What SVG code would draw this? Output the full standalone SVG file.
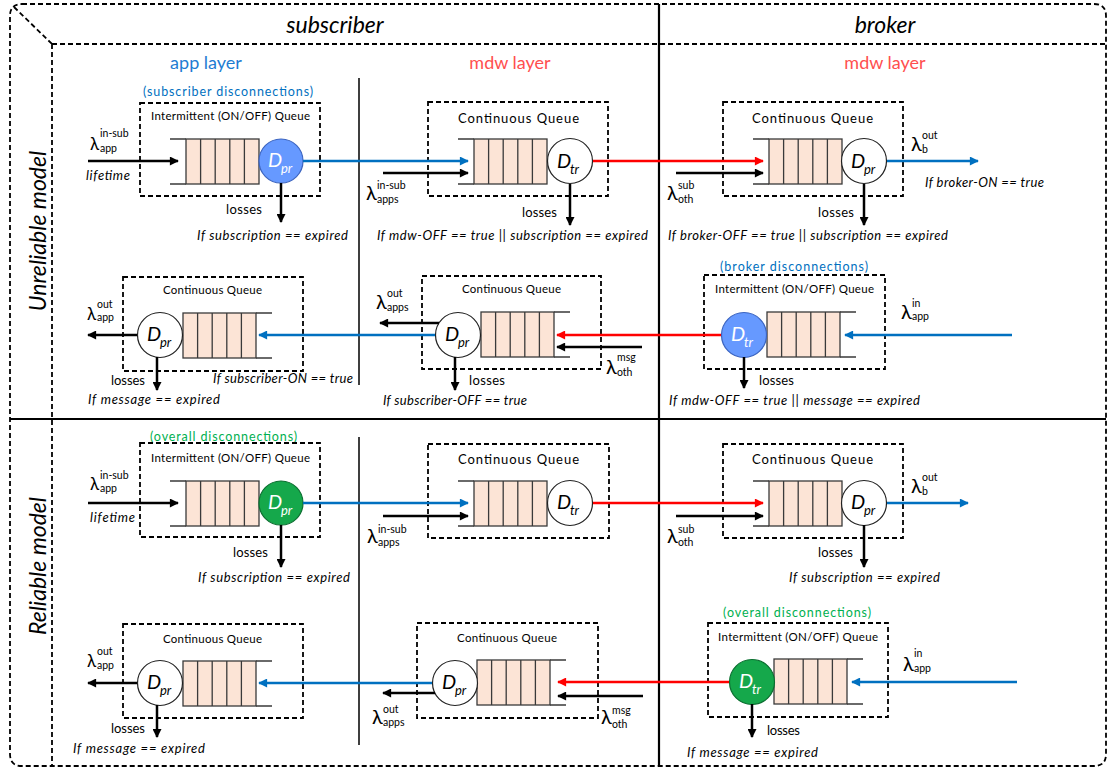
<svg xmlns="http://www.w3.org/2000/svg" width="1108" height="769" viewBox="0 0 1108 769">
<defs>
<style>
text{font-family:Lato,"Liberation Sans","DejaVu Sans",sans-serif;fill:#000}
.hdr{font-size:23px;font-style:italic;text-anchor:middle}
.lay{font-size:18px;text-anchor:middle}
.blue{fill:#1E7CD2}
.red{fill:#FF4F4F}
.cb{fill:#0070C0}
.cg{fill:#00B050}
.disc{font-size:12.5px;text-anchor:middle}
.qt{font-size:11.5px;text-anchor:middle}
.qt2{font-size:13px;text-anchor:middle}
.dash{fill:none;stroke:#000;stroke-width:1.8;stroke-dasharray:5 3}
.frame{fill:none;stroke:#000;stroke-width:1.8;stroke-dasharray:5 3}
.solid{stroke:#000;stroke-width:2.2;fill:none}
.thin{stroke:#000;stroke-width:1.5;fill:none}
.cell{fill:#FCE4D6;stroke:#3a3a3a;stroke-width:1.3}
.ql{stroke:#3a3a3a;stroke-width:1.3;fill:none}
.srv{fill:#fff;stroke:#222;stroke-width:1.2}
.srvb{fill:#6699FF;stroke:#3b64c0;stroke-width:1.2}
.srvg{fill:#15A84B;stroke:#0b6f30;stroke-width:1.2}
.D{font-size:20px;font-style:italic}
.Ds{font-size:13px;font-style:italic}
.wt{fill:#fff}
.lam{font-size:17px}
.lam2{font-size:20px}
.sc{font-size:10.5px}
.it{font-size:13px;font-style:italic}
.ls{font-size:13px}
.ak{stroke:#000;stroke-width:2.5;fill:none}
.ab{stroke:#0070C0;stroke-width:2.5;fill:none}
.ar{stroke:#FF0000;stroke-width:2.5;fill:none}
</style>
<marker id="mk" viewBox="0 0 10 10" refX="9" refY="5" markerWidth="10" markerHeight="9" markerUnits="userSpaceOnUse" orient="auto"><path d="M0,0L10,5L0,10z" fill="#000"/></marker>
<marker id="mb" viewBox="0 0 10 10" refX="9" refY="5" markerWidth="10" markerHeight="9" markerUnits="userSpaceOnUse" orient="auto"><path d="M0,0L10,5L0,10z" fill="#0070C0"/></marker>
<marker id="mr" viewBox="0 0 10 10" refX="9" refY="5" markerWidth="10" markerHeight="9" markerUnits="userSpaceOnUse" orient="auto"><path d="M0,0L10,5L0,10z" fill="#FF0000"/></marker>
<g id="cells"><rect class="cell" x="0" y="0" width="73" height="45"/><path class="ql" d="M14.6,0V45M29.2,0V45M43.8,0V45M58.4,0V45"/></g>
<g id="qR"><path class="ql" d="M-16,0H0M-16,45H0"/><use href="#cells"/></g>
<g id="qL"><path class="ql" d="M73,0H89M73,45H89"/><use href="#cells"/></g>
</defs>
<rect width="1108" height="769" fill="#fff"/>

<g id="frame">
<path class="frame" d="M22,4H1094Q1106,4 1106,16V754Q1106,766 1094,766H22Q10,766 10,754V16Q10,4 22,4Z"/>
<path class="frame" d="M14,7L52,44M52,44H1106M52,44V766"/>
<path class="solid" d="M659,4V766M10,419H1106"/>
<path class="thin" d="M359,78V385M359,437V745"/>
<text class="hdr" x="335" y="33">subscriber</text>
<text class="hdr" x="885" y="33">broker</text>
<text class="hdr" transform="translate(46,231) rotate(-90)">Unreliable model</text>
<text class="hdr" transform="translate(46,566) rotate(-90)">Reliable model</text>
<text class="lay blue" x="206" y="69">app layer</text>
<text class="lay red" x="510" y="69">mdw layer</text>
<text class="lay red" x="885" y="69">mdw layer</text>
</g>

<g id="A1">
<text class="disc cb" x="228" y="96" textLength="170">(subscriber disconnections)</text>
<rect class="dash" x="140" y="103" width="180" height="93"/>
<text class="qt" x="230.5" y="120" textLength="159">Intermittent (ON/OFF) Queue</text>
<use href="#qR" x="186" y="139"/>
<circle class="srvb" cx="281" cy="161" r="22"/>
<text class="D wt" x="268" y="167">D</text><text class="Ds wt" x="281" y="173">pr</text>
</g>

<g id="B1">
<rect class="dash" x="428" y="102" width="180" height="94"/>
<text class="qt2" x="518.5" y="123" textLength="121">Continuous Queue</text>
<use href="#qR" x="474" y="139"/>
<circle class="srv" cx="570" cy="161" r="22.5"/>
<text class="D" x="557" y="168">D</text><text class="Ds" x="570" y="174">tr</text>
</g>

<g id="C1">
<rect class="dash" x="723" y="102" width="180" height="94"/>
<text class="qt2" x="812.5" y="123" textLength="121">Continuous Queue</text>
<use href="#qR" x="769" y="139"/>
<circle class="srv" cx="864" cy="161" r="22.5"/>
<text class="D" x="851" y="168">D</text><text class="Ds" x="864" y="174">pr</text>
</g>

<g id="A2">
<rect class="dash" x="123" y="277" width="180" height="94"/>
<text class="qt" x="212.5" y="294" textLength="99">Continuous Queue</text>
<use href="#qL" x="183" y="313"/>
<circle class="srv" cx="160" cy="335" r="22.5"/>
<text class="D" x="147" y="341">D</text><text class="Ds" x="160" y="347">pr</text>
</g>

<g id="B2">
<rect class="dash" x="422" y="276" width="179" height="93"/>
<text class="qt" x="511.5" y="293" textLength="99">Continuous Queue</text>
<use href="#qL" x="481" y="312"/>
<circle class="srv" cx="458" cy="335" r="22.5"/>
<text class="D" x="445" y="341">D</text><text class="Ds" x="458" y="347">pr</text>
</g>

<g id="C2">
<text class="disc cb" x="794" y="271" textLength="148">(broker disconnections)</text>
<rect class="dash" x="704" y="275" width="181" height="94"/>
<text class="qt" x="794.5" y="293" textLength="159">Intermittent (ON/OFF) Queue</text>
<use href="#qL" x="767" y="312"/>
<circle class="srvb" cx="744" cy="335" r="22.5"/>
<text class="D wt" x="731" y="341">D</text><text class="Ds wt" x="744" y="347">tr</text>
</g>

<g id="A3">
<text class="disc cg" x="223.5" y="441" textLength="147">(overall disconnections)</text>
<rect class="dash" x="140" y="443" width="180" height="94"/>
<text class="qt" x="230.5" y="462" textLength="159">Intermittent (ON/OFF) Queue</text>
<use href="#qR" x="186" y="481"/>
<circle class="srvg" cx="281" cy="503" r="22"/>
<text class="D wt" x="268" y="509">D</text><text class="Ds wt" x="281" y="515">pr</text>
</g>

<g id="B3">
<rect class="dash" x="428" y="444" width="181" height="94"/>
<text class="qt2" x="518.5" y="464" textLength="121">Continuous Queue</text>
<use href="#qR" x="474" y="481"/>
<circle class="srv" cx="570" cy="503" r="22.5"/>
<text class="D" x="557" y="509">D</text><text class="Ds" x="570" y="515">tr</text>
</g>

<g id="C3">
<rect class="dash" x="723" y="444" width="180" height="94"/>
<text class="qt2" x="812.5" y="464" textLength="121">Continuous Queue</text>
<use href="#qR" x="769" y="481"/>
<circle class="srv" cx="864" cy="503" r="22.5"/>
<text class="D" x="851" y="509">D</text><text class="Ds" x="864" y="515">pr</text>
</g>

<g id="A4">
<rect class="dash" x="123" y="624" width="180" height="94"/>
<text class="qt" x="212.5" y="643" textLength="99">Continuous Queue</text>
<use href="#qL" x="183" y="661"/>
<circle class="srv" cx="160" cy="683" r="22.5"/>
<text class="D" x="147" y="689">D</text><text class="Ds" x="160" y="695">pr</text>
</g>

<g id="B4">
<rect class="dash" x="417" y="623" width="181" height="95"/>
<text class="qt" x="507" y="642" textLength="100">Continuous Queue</text>
<use href="#qL" x="477" y="660"/>
<circle class="srv" cx="455" cy="683" r="22.5"/>
<text class="D" x="442" y="689">D</text><text class="Ds" x="455" y="695">pr</text>
</g>

<g id="C4">
<text class="disc cg" x="797" y="617" textLength="148">(overall disconnections)</text>
<rect class="dash" x="708" y="623" width="180" height="94"/>
<text class="qt" x="798" y="641" textLength="160">Intermittent (ON/OFF) Queue</text>
<use href="#qL" x="774" y="659"/>
<circle class="srvg" cx="752" cy="682" r="22.5"/>
<text class="D wt" x="739" y="688">D</text><text class="Ds wt" x="752" y="694">tr</text>
</g>

<g id="connectors">
<line class="ak" x1="88" y1="161" x2="178" y2="161" marker-end="url(#mk)"/>
<line class="ab" x1="303" y1="161" x2="468" y2="161" marker-end="url(#mb)"/>
<line class="ak" x1="383" y1="173" x2="468" y2="173" marker-end="url(#mk)"/>
<line class="ar" x1="593" y1="161" x2="763" y2="161" marker-end="url(#mr)"/>
<line class="ak" x1="676" y1="173" x2="763" y2="173" marker-end="url(#mk)"/>
<line class="ab" x1="887" y1="161" x2="978" y2="161" marker-end="url(#mb)"/>
<line class="ak" x1="281" y1="183" x2="281" y2="222" marker-end="url(#mk)"/>
<line class="ak" x1="570" y1="184" x2="570" y2="225" marker-end="url(#mk)"/>
<line class="ak" x1="864" y1="184" x2="864" y2="225" marker-end="url(#mk)"/>

<line class="ab" x1="1012" y1="335" x2="845" y2="335" marker-end="url(#mb)"/>
<line class="ar" x1="721" y1="335" x2="557" y2="335" marker-end="url(#mr)"/>
<line class="ak" x1="642" y1="347" x2="557" y2="347" marker-end="url(#mk)"/>
<line class="ab" x1="435" y1="335" x2="259" y2="335" marker-end="url(#mb)"/>
<line class="ak" x1="439" y1="323" x2="380" y2="323" marker-end="url(#mk)"/>
<line class="ak" x1="137" y1="335" x2="88" y2="335" marker-end="url(#mk)"/>
<line class="ak" x1="157" y1="357" x2="157" y2="390" marker-end="url(#mk)"/>
<line class="ak" x1="455" y1="357" x2="455" y2="390" marker-end="url(#mk)"/>
<line class="ak" x1="744" y1="357" x2="744" y2="388" marker-end="url(#mk)"/>

<line class="ak" x1="88" y1="503" x2="178" y2="503" marker-end="url(#mk)"/>
<line class="ab" x1="303" y1="503" x2="468" y2="503" marker-end="url(#mb)"/>
<line class="ak" x1="383" y1="516" x2="468" y2="516" marker-end="url(#mk)"/>
<line class="ar" x1="593" y1="503" x2="763" y2="503" marker-end="url(#mr)"/>
<line class="ak" x1="676" y1="516" x2="763" y2="516" marker-end="url(#mk)"/>
<line class="ab" x1="887" y1="503" x2="968" y2="503" marker-end="url(#mb)"/>
<line class="ak" x1="281" y1="525" x2="281" y2="567" marker-end="url(#mk)"/>
<line class="ak" x1="864" y1="525" x2="864" y2="567" marker-end="url(#mk)"/>

<line class="ab" x1="1017" y1="682" x2="852" y2="682" marker-end="url(#mb)"/>
<line class="ar" x1="729" y1="682" x2="558" y2="682" marker-end="url(#mr)"/>
<line class="ak" x1="643" y1="696" x2="558" y2="696" marker-end="url(#mk)"/>
<line class="ab" x1="432" y1="683" x2="259" y2="683" marker-end="url(#mb)"/>
<line class="ak" x1="435" y1="693" x2="383" y2="693" marker-end="url(#mk)"/>
<line class="ak" x1="137" y1="683" x2="88" y2="683" marker-end="url(#mk)"/>
<line class="ak" x1="157" y1="705" x2="157" y2="737" marker-end="url(#mk)"/>
<line class="ak" x1="752" y1="704" x2="752" y2="737" marker-end="url(#mk)"/>
</g>

<g id="labels">
<text class="lam" x="90" y="150">λ</text><text class="sc" x="100" y="137">in-sub</text><text class="sc" x="100" y="152">app</text>
<text class="it" x="86" y="180" textLength="44">lifetime</text>
<text class="ls" x="226" y="214" textLength="36">losses</text>
<text class="it" x="197" y="240" textLength="151">If subscription == expired</text>
<text class="lam2" x="366" y="200">λ</text><text class="sc" x="377" y="189">in-sub</text><text class="sc" x="377" y="203">apps</text>
<text class="ls" x="522" y="217" textLength="35">losses</text>
<text class="it" x="377" y="240" textLength="271">If mdw-OFF == true || subscription == expired</text>
<text class="lam2" x="667" y="200">λ</text><text class="sc" x="678" y="189">sub</text><text class="sc" x="678" y="203">oth</text>
<text class="lam2" x="911" y="151">λ</text><text class="sc" x="922" y="139">out</text><text class="sc" x="922" y="153">b</text>
<text class="it" x="925" y="187" textLength="119">If broker-ON == true</text>
<text class="ls" x="818" y="217" textLength="36">losses</text>
<text class="it" x="668" y="240" textLength="280">If broker-OFF == true || subscription == expired</text>

<text class="lam" x="87" y="320">λ</text><text class="sc" x="97" y="308">out</text><text class="sc" x="97" y="321">app</text>
<text class="ls" x="111" y="385" textLength="34">losses</text>
<text class="it" x="88" y="404" textLength="132">If message == expired</text>
<text class="it" x="213" y="383" textLength="140">If subscriber-ON == true</text>
<text class="lam2" x="376" y="309">λ</text><text class="sc" x="387" y="297">out</text><text class="sc" x="387" y="311">apps</text>
<text class="ls" x="469" y="385" textLength="36">losses</text>
<text class="it" x="383" y="405" textLength="144">If subscriber-OFF == true</text>
<text class="lam2" x="606" y="374">λ</text><text class="sc" x="617" y="361">msg</text><text class="sc" x="617" y="376">oth</text>
<text class="lam2" x="901" y="319">λ</text><text class="sc" x="912" y="307">in</text><text class="sc" x="912" y="320">app</text>
<text class="ls" x="759" y="385" textLength="35">losses</text>
<text class="it" x="669" y="405" textLength="251">If mdw-OFF == true || message == expired</text>

<text class="lam" x="90" y="490">λ</text><text class="sc" x="100" y="479">in-sub</text><text class="sc" x="100" y="492">app</text>
<text class="it" x="90" y="522" textLength="45">lifetime</text>
<text class="ls" x="233" y="557" textLength="35">losses</text>
<text class="it" x="198" y="582" textLength="152">If subscription == expired</text>
<text class="lam2" x="367" y="543">λ</text><text class="sc" x="378" y="533">in-sub</text><text class="sc" x="378" y="546">apps</text>
<text class="lam2" x="667" y="543">λ</text><text class="sc" x="678" y="533">sub</text><text class="sc" x="678" y="546">oth</text>
<text class="lam2" x="911" y="493">λ</text><text class="sc" x="922" y="481">out</text><text class="sc" x="922" y="495">b</text>
<text class="ls" x="818" y="557" textLength="35">losses</text>
<text class="it" x="789" y="582" textLength="151">If subscription == expired</text>

<text class="lam" x="87" y="667">λ</text><text class="sc" x="97" y="655">out</text><text class="sc" x="97" y="669">app</text>
<text class="ls" x="111" y="733" textLength="34">losses</text>
<text class="it" x="73" y="753" textLength="132">If message == expired</text>
<text class="lam2" x="372" y="724">λ</text><text class="sc" x="383" y="713">out</text><text class="sc" x="383" y="726">apps</text>
<text class="lam2" x="601" y="724">λ</text><text class="sc" x="612" y="714">msg</text><text class="sc" x="612" y="728">oth</text>
<text class="lam2" x="903" y="671">λ</text><text class="sc" x="914" y="657">in</text><text class="sc" x="914" y="672">app</text>
<text class="ls" x="767" y="735" textLength="33">losses</text>
<text class="it" x="687" y="757" textLength="131">If message == expired</text>
</g>
</svg>
